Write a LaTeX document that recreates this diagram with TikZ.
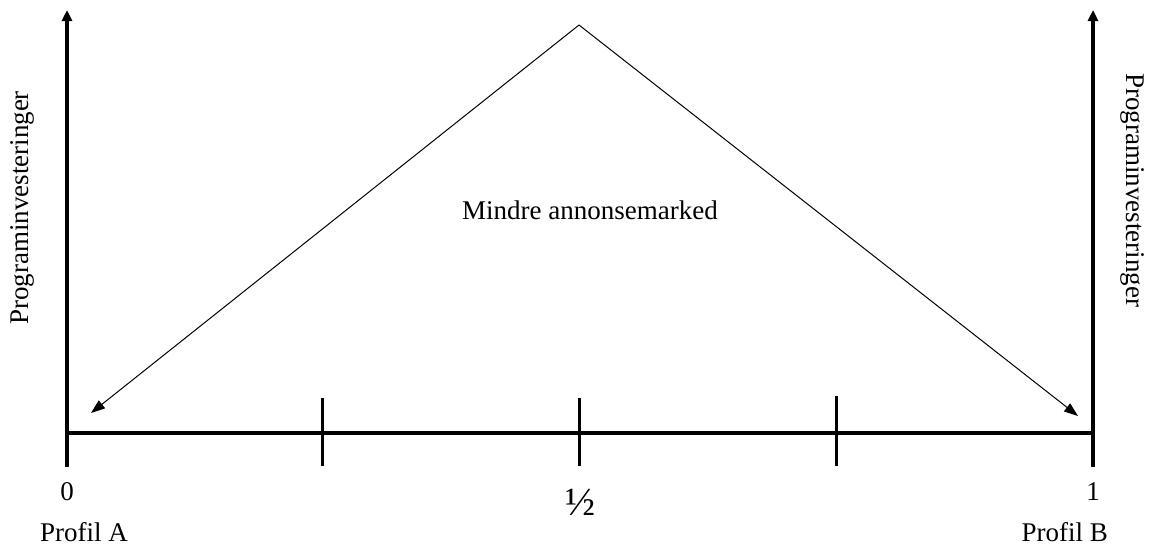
\documentclass[tikz,border=0pt]{standalone}
\usepackage{fontspec}
\setmainfont{Liberation Serif}
\usetikzlibrary{arrows.meta}
\begin{document}
\begin{tikzpicture}[x=1pt,y=-1pt,
  axis/.style={line width=3.5pt},
  axisarrow/.style={axis,-{Triangle[length=11pt,width=10pt]}},
  diag/.style={line width=1pt,-{Triangle[length=14pt,width=10pt]}},
  peak/.style={line width=1pt},
  tickmark/.style={line width=3pt},
  lbl/.style={font=\fontsize{27}{32}\selectfont, inner sep=0pt}]
\useasboundingbox (0,0) rectangle (1151,547);
\coordinate (Lb) at (67,467);
\coordinate (Lt) at (67,10);
\coordinate (Rb) at (1093,467);
\coordinate (Rt) at (1093,10);
\coordinate (O) at (67,433);
\coordinate (R) at (1093,433);
\coordinate (T1a) at (322,398); \coordinate (T1b) at (322,466);
\coordinate (T2a) at (579,398); \coordinate (T2b) at (579,466);
\coordinate (T3a) at (836,396); \coordinate (T3b) at (836,466);
\coordinate (P) at (579,25);
\coordinate (EA) at (91,413);
\coordinate (EB) at (1078,416);
\draw[axisarrow] (Lb) -- (Lt);
\draw[axisarrow] (Rb) -- (Rt);
\draw[axis] (O) -- (R);
\draw[tickmark] (T1a) -- (T1b);
\draw[tickmark] (T2a) -- (T2b);
\draw[tickmark] (T3a) -- (T3b);
\draw[diag] (P) -- (EA);
\draw[diag] (P) -- (EB);
\node[lbl] (zero) at (67,492) {0};
\node[lbl,font=\fontsize{40}{44}\selectfont] (half) at (580,502) {½};
\node[lbl] (one) at (1093,492) {1};
\node[lbl,anchor=base west] (pa) at (40,541) {Profil A};
\node[lbl,anchor=base east] (pb) at (1108,541) {Profil B};
\node[lbl] (mid) at (590,210) {Mindre annonsemarked};
\node[lbl,rotate=90] (yl) at (22,208) {Programinvesteringer};
\node[lbl,rotate=-90] (yr) at (1133,190) {Programinvesteringer};
\end{tikzpicture}
\end{document}
